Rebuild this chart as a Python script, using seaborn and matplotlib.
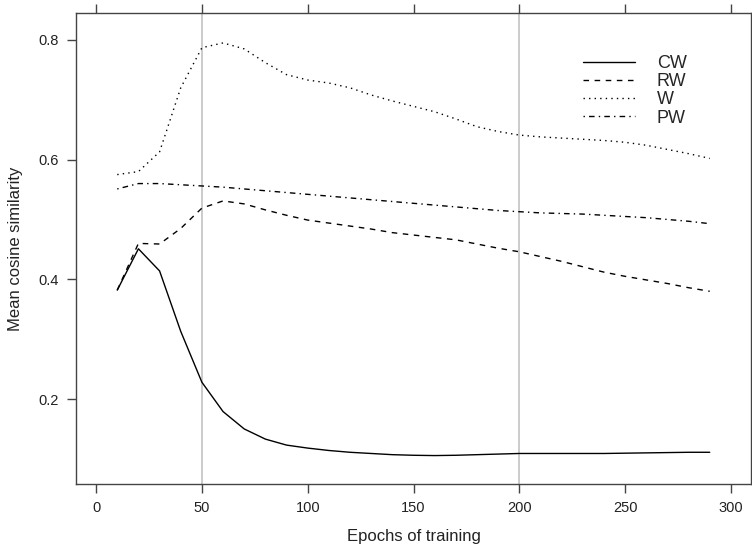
import seaborn as sns
from matplotlib import pyplot as plt
import pandas as pd

epochs = list(range(10, 300, 10))

cw = [0.382, 0.451, 0.414, 0.313, 0.228, 0.179, 0.150, 0.133, 0.123, 0.118,
      0.114, 0.111, 0.109, 0.107, 0.106, 0.1055, 0.106, 0.107, 0.108, 0.109,
      0.109, 0.109, 0.109, 0.109, 0.1095, 0.110, 0.1105, 0.111, 0.111]
rw = [0.382, 0.460, 0.459, 0.485, 0.519, 0.531, 0.526, 0.516, 0.507, 0.499,
      0.494, 0.489, 0.484, 0.478, 0.474, 0.470, 0.466, 0.459, 0.452, 0.446,
      0.438, 0.430, 0.421, 0.412, 0.405, 0.399, 0.393, 0.386, 0.380]
w = [0.575, 0.580, 0.613, 0.720, 0.787, 0.795, 0.785, 0.762, 0.742, 0.733,
     0.728, 0.720, 0.708, 0.698, 0.689, 0.680, 0.668, 0.655, 0.647, 0.641,
     0.638, 0.636, 0.634, 0.632, 0.629, 0.624, 0.617, 0.610, 0.602]
pw = [0.551, 0.560, 0.560, 0.558, 0.556, 0.554, 0.551, 0.548, 0.545, 0.542,
      0.539, 0.536, 0.533, 0.530, 0.527, 0.524, 0.521, 0.518, 0.515, 0.513,
      0.511, 0.510, 0.509, 0.507, 0.505, 0.503, 0.500, 0.497, 0.493]

methods = ["CW", "RW", "W", "PW"]
ref_lines = [50, 200]

rows = []
for name, vals in zip(methods, [cw, rw, w, pw]):
    for e, v in zip(epochs, vals):
        rows.append({"epoch": e, "sim": v, "method": name})
df = pd.DataFrame(rows)

sns.set_style("white")
plt.rcParams['font.family'] = ['Liberation Sans', 'DejaVu Sans']

fig = plt.figure(figsize=(7.52, 5.5), dpi=100)
ax = fig.add_axes([76 / 752, 66 / 550, 675 / 752, 471 / 550])

# grey reference lines
for x in ref_lines:
    ax.axvline(x, color="#bdbdbd", lw=1.1, zorder=0)

dash_styles = {"CW": "", "RW": (4, 4), "W": (1, 3), "PW": (1, 3, 4, 3)}
sns.lineplot(data=df, x="epoch", y="sim", style="method", style_order=methods,
             dashes=dash_styles, color="black", lw=1.0, ax=ax)

ax.set_xlim(-9.5, 309.5)
ax.set_ylim(0.058, 0.845)
ax.set_xticks([0, 50, 100, 150, 200, 250, 300])
ax.set_yticks([0.2, 0.4, 0.6, 0.8])
ax.tick_params(axis="both", which="both", direction="out", length=6.5, width=1,
               color="#444444", labelsize=10.5, labelcolor="#222222", pad=6,
               top=True, right=True, bottom=True, left=True)

for s in ax.spines.values():
    s.set_visible(True)
    s.set_color("#444444")
    s.set_linewidth(1)

ax.set_xlabel("Epochs of training", fontsize=12, color="#222222", labelpad=10)
ax.set_ylabel("Mean cosine similarity", fontsize=12, color="#222222", labelpad=11)

ax.legend(frameon=False, fontsize=13, loc="upper left",
          bbox_to_anchor=(0.751, 0.911), borderpad=0, handlelength=2.9,
          handletextpad=1.2, labelspacing=0.07, borderaxespad=0)

fig.savefig("out.png", dpi=100)
